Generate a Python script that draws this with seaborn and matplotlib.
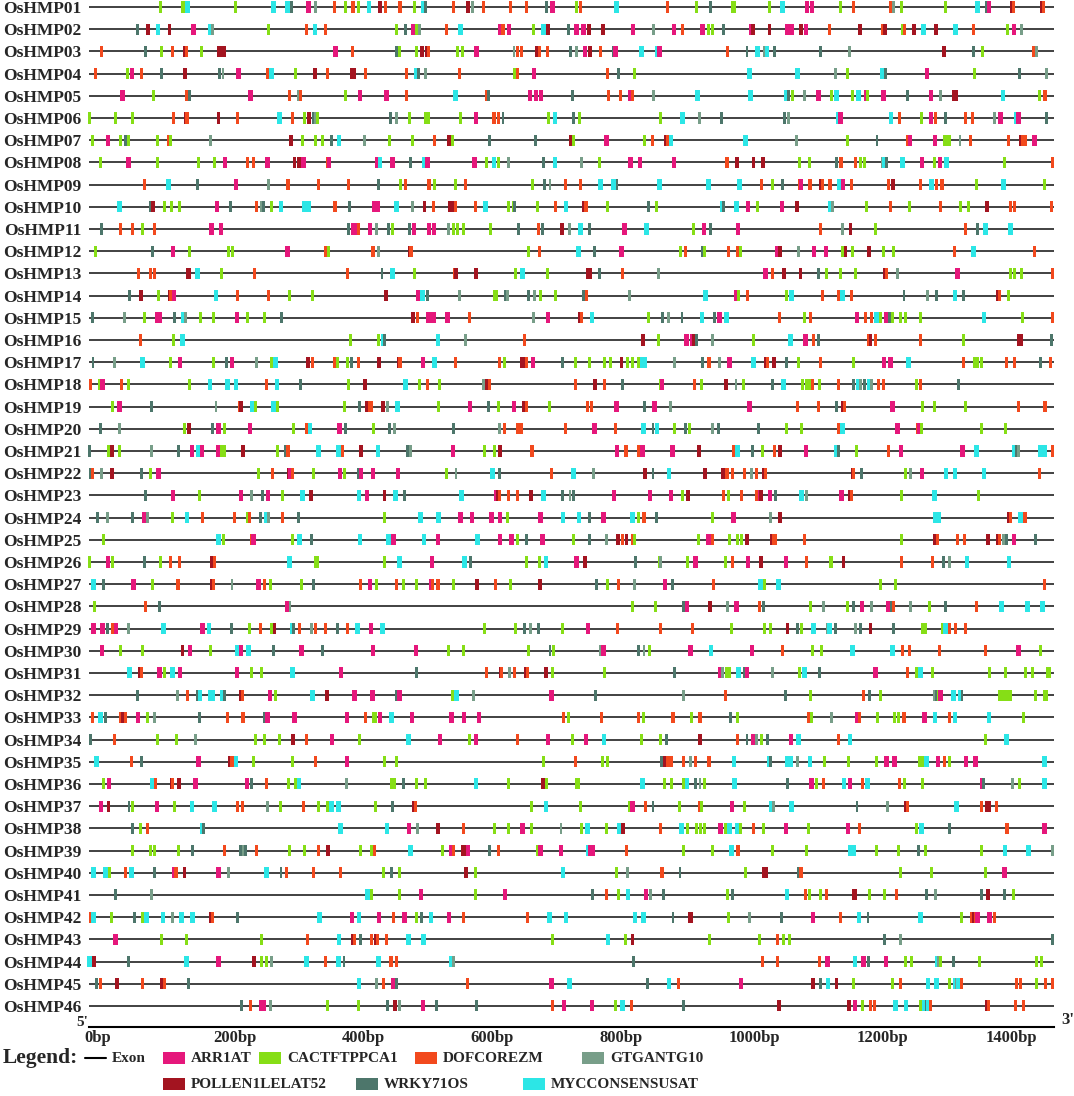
import pandas as pd
import matplotlib.pyplot as plt
import seaborn as sns
from matplotlib.path import Path
from matplotlib.patches import Rectangle
from matplotlib.lines import Line2D
import matplotlib.transforms as mtransforms

genes = ["OsHMP%02d" % i for i in range(1, 47)]
motifs = ["ARR1AT", "CACTFTPPCA1", "DOFCOREZM", "GTGANTG10",
          "POLLEN1LELAT52", "WRKY71OS", "MYCCONSENSUSAT"]
motif_codes = ["A", "C", "D", "G", "P", "W", "M"]
motif_colors = ["#E5177B", "#86DE16", "#F2491D", "#789E89",
                "#A31420", "#4D766B", "#2CE6E6"]
promoter_len = 1500
xticks_bp = [0, 200, 400, 600, 800, 1000, 1200, 1400]

# one string per gene: motif code + site position (bp from 5' end)
sites = [
    "C112 C146 C149 M154 C229 M287 M309 W316 A342 G353 D382 C400 D411 C419 M436 P453 D461 D484 C506 M520 W523 D567 P589 G596 D614 D656 D681 W711 A721 C758 D765 M820 D900 C944 W966 C1000 C1004 C1058 M1078 A1116 A1124 C1168 D1189 D1246 G1250 C1263 C1332 M1381 W1395 A1399 P1434 D1437 P1481 D1484",
    "W76 P92 M108 P126 A163 M189 G192 C279 D339 M352 D368 C479 W493 A504 C509 G514 D556 M578 A640 D644 A653 C692 M707 P714 W746 A758 A769 P777 P799 A846 G878 A910 D923 A954 C963 C969 W986 A1029 P1032 P1058 A1085 A1092 P1107 A1115 D1151 P1199 D1234 P1237 C1264 D1268 P1283 M1297 P1317 M1347 D1375 C1428 A1438 G1449",
    "D20 W89 C113 D131 P149 D152 C176 P203 P206 P210 A384 D410 W478 C483 C510 P518 P525 D528 C574 C581 A603 G661 D667 D673 P696 D700 D713 W749 G758 A771 P779 D795 W815 A819 M859 M884 A887 D993 W1023 M1039 G1050 M1054 W1066 W1137 G1182 P1329 W1375 C1389 D1468 G1473",
    "D11 C61 A68 D82 W113 P150 W203 G209 A233 D278 M284 C321 P352 D371 P409 P412 D431 D494 M509 W512 G524 D577 C662 D666 A692 D806 W823 C849 M1027 M1102 G1161 C1179 M1234 W1238 A1303 C1377 W1446 G1489",
    "A53 C101 D153 W157 A252 D312 G326 D329 C399 A422 A463 D494 M570 D618 W621 A686 A695 A703 W752 D808 D827 A842 D845 G878 M946 M1029 M1084 W1087 C1093 G1112 A1134 C1155 M1162 C1187 M1196 A1208 C1211 A1235 W1272 A1309 G1324 P1345 P1348 M1421 C1478 D1486",
    "C1 C42 C68 D132 P151 D153 P202 D231 M297 D317 C336 P343 W349 G352 C356 W469 G479 C498 C523 C528 C578 A602 D630 D637 W644 C715 M725 W754 C763 C888 M923 G949 W983 W1081 G1087 M1165 A1168 M1247 D1260 C1294 A1309 D1316 W1331 D1363 D1373 G1407 A1417 M1442 A1445 W1489",
    "C6 A30 C50 W57 C62 C107 D124 C128 G190 P314 C332 C352 C363 W378 M389 G429 C467 C503 D538 P560 C566 W623 W695 P750 C754 A805 C864 D876 P897 D899 M905 M1021 G1100 C1179 W1225 D1272 A1276 A1315 C1330 C1335 C1338 G1354 D1370 D1429 P1448 D1451 D1455 A1470",
    "C19 A62 C107 C171 C196 A212 D247 D256 A278 P320 P327 A334 D372 A374 A448 M453 A472 W500 M522 A527 A600 C618 M630 C637 G652 W707 M725 G766 C794 A842 A857 A910 D992 P1007 P1033 P1048 C1105 C1120 W1162 D1169 D1192 C1200 C1205 G1234 M1237 W1240 M1265 A1295 C1315 A1323 M1333 C1423 D1497",
    "D87 M124 W170 A229 G279 D310 D358 D404 W450 C484 D492 D529 C538 C570 D586 C690 W709 G717 D741 D765 M795 M816 W821 M887 M963 M1011 D1046 C1063 W1078 D1105 A1107 D1121 P1138 D1140 D1152 M1166 A1172 D1186 D1243 P1250 D1293 M1310 D1317 D1326 C1380 M1422 C1486",
    "M48 W96 P100 C118 C129 C142 A200 W220 D261 G268 W272 C284 M299 M336 M342 D383 W406 A444 A449 M478 G503 P522 D536 P562 P567 D570 D601 M617 C652 C660 W662 C698 D725 M742 P770 D773 C806 W870 C883 M984 W987 M1007 A1025 C1039 A1077 P1101 M1153 G1156 C1209 D1246 C1276 D1324 C1354 C1367 P1396 D1433 D1439 D1496",
    "W20 D50 D69 C84 D102 A191 A206 W404 A411 A417 D420 A437 G448 W466 C473 W499 A506 A529 A537 G559 C567 C574 C582 C624 W668 D699 W705 P736 G747 M764 W778 A833 M867 C940 A956 W967 A1009 D1137 G1171 P1184 C1222 D1363 W1381 M1394 M1432",
    "C11 W99 A131 C157 C217 C223 A309 D369 C373 D442 G451 P499 D501 C683 D701 M761 W786 A828 C919 D928 W954 C957 D994 D1009 C1013 A1070 P1074 G1103 A1127 A1146 C1172 P1176 C1187 P1213 C1235 C1250 D1345 M1375 D1470",
    "D77 D96 D103 P154 P157 M169 C206 D258 D402 W456 M472 C506 D569 P571 P602 C663 M674 C713 P776 P779 W794 D829 G886 A1052 D1062 P1080 P1106 W1134 C1146 C1168 C1192 P1237 D1240 G1257 A1350 C1432 C1439 C1449 D1497",
    "W64 P82 C109 P126 D128 A133 M198 D232 D279 C312 C348 P462 A513 M519 W527 G577 C631 C634 W648 G651 W683 G693 C702 C725 W769 D774 G840 M959 A1007 C1010 D1024 C1084 M1092 D1140 D1165 M1171 D1185 W1267 G1303 W1318 M1346 W1359 P1413 D1415 C1429",
    "W6 G56 C87 A106 A110 W134 M148 G151 C174 C194 A231 C247 C273 W300 P504 D511 A528 A536 A558 D592 G691 A714 P764 D766 M782 C870 W892 G901 W922 M953 W972 A980 M991 D1073 C1112 D1122 A1194 D1207 D1217 M1224 C1230 A1240 W1244 C1249 C1262 C1269 C1293 M1391 C1451 D1497",
    "D81 C132 M146 C407 C450 M458 W460 M543 G586 D678 P862 C886 A929 A938 P941 W944 G970 C1033 M1091 A1114 D1126 W1134 D1212 P1215 D1223 D1293 C1360 P1446 P1449 W1496",
    "W7 G40 M84 C128 A142 C194 W214 A223 G261 C284 M291 P341 D348 D382 C387 C403 W408 D419 P451 P482 D484 A520 M538 D570 D639 C647 P673 P678 D680 A691 W736 C757 C779 C801 C811 P828 C837 C845 C855 M861 M864 G911 W954 D964 G980 A996 M1033 P1053 D1055 P1065 W1085 C1103 D1137 C1189 A1236 A1246 M1274 D1360 C1376 C1381 C1387 D1426 D1439 W1479 D1495",
    "D3 C17 A22 D51 C62 C157 M189 M216 M229 D276 M293 W329 C404 P429 M493 C514 D526 C546 G614 P619 D623 D757 P787 D802 W829 C888 A891 D942 C953 P991 G1006 C1017 W1063 M1080 C1110 C1115 C1120 D1125 C1135 D1165 W1189 M1196 G1200 W1205 M1213 G1216 D1228 D1235 C1287 D1292 W1351",
    "C37 A48 W98 G198 D234 P237 M254 C260 M287 C294 C398 W421 P432 D436 D439 P458 G464 M480 C543 A593 W622 C637 A661 P677 D681 C716 D775 D781 A820 W864 A879 G904 A1027 D1102 D1134 W1162 P1172 D1175 A1249 C1295 C1315 C1363 D1445 D1486",
    "W18 G48 C149 P156 W192 A202 C212 A251 C318 D338 M344 A390 W399 C442 W467 G476 W567 G639 D646 D667 D672 D741 A786 D819 M862 W877 M883 C910 W928 C933 G970 W979 W1041 C1085 C1107 D1165 M1171 A1257 D1288 A1291 C1294 C1387 C1424",
    "W2 C31 P36 C48 G98 W140 A161 M171 A176 A201 C206 C212 P240 C294 W306 D310 M357 M388 D394 P423 M450 W496 G500 A566 C616 C630 P639 D689 A821 D835 D855 A861 A907 P949 D1002 M1008 W1031 C1047 D1066 P1074 A1115 M1162 W1165 C1193 D1243 A1262 A1358 M1380 M1438 W1442 G1445 M1479 M1485 D1498",
    "W3 D6 G20 P36 W82 C96 A109 C264 D286 P311 A314 D317 C349 A391 C398 W420 A423 A442 A481 C556 G571 M628 W638 D719 M753 G784 P864 W877 M902 P958 P986 D992 D1000 D1019 G1030 D1038 P1049 D1052 P1187 D1189 W1201 C1270 G1277 A1295 M1332 M1346 M1391 D1478",
    "W89 A131 C172 A237 G253 W270 A279 C301 M332 P346 M420 A433 P460 M477 W491 M579 A633 P636 D638 D652 D667 P688 M707 W736 G748 W753 A816 A872 A905 C923 P931 D987 C995 D1015 D1038 A1043 P1045 A1059 W1068 M1108 G1115 A1170 P1183 D1186 C1263 M1314 C1383",
    "W14 G30 W68 A86 G91 C130 M153 D177 D227 C247 D250 W267 M276 G279 D301 W326 C460 M516 M544 A578 A596 A626 A639 C651 A702 M737 M762 W779 A800 M845 C855 D863 W882 C970 A1002 G1059 P1074 M1315 M1321 P1430 D1432 M1448 D1455",
    "C24 M202 C209 D253 A256 C317 M328 W347 M422 M466 A474 M521 A543 M604 A639 A657 C667 W681 A705 C754 W778 G805 P823 D830 P836 D845 C849 C947 A963 D970 C996 C1008 C1014 P1023 P1061 D1064 D1068 D1112 C1263 P1315 D1319 D1350 D1361 P1397 P1413 D1416 G1421 W1426 A1438 W1471",
    "C1 A30 C37 W87 C112 D127 D142 P192 D196 M312 C352 C355 C460 M483 A534 M584 W593 C681 C701 M711 A758 P771 W850 C887 G889 C931 A943 C989 D1000 A1025 P1045 A1084 D1115 C1152 C1155 P1173 D1263 D1311 W1328 G1337 M1365 M1430",
    "M8 W23 A70 C100 D139 P191 D194 G223 A264 D274 C283 C331 W349 D422 A437 C447 D478 C490 C510 A532 D534 D543 C567 P603 D633 C656 P701 W789 C806 D823 G848 A896 W907 D971 M1044 C1051 M1072 C1230 C1253 D1485",
    "C10 D88 W110 A308 G313 C845 C881 W925 A930 P966 G993 A1007 D1043 W1049 C1121 G1142 C1179 W1189 A1202 G1217 A1243 W1247 D1251 G1277 C1307 W1332 D1380 M1418 M1459 M1482",
    "A8 A22 W29 D37 A43 G62 M117 A177 M187 W222 C250 D267 C284 P289 M316 W318 D328 G346 D352 D368 W387 D403 M418 A439 M457 C616 C664 W678 G687 W699 C737 A776 D822 D888 D939 C999 C1051 C1059 P1086 W1102 C1107 M1126 G1148 M1151 W1161 G1192 W1200 P1215 W1250 C1295 C1301 C1327 M1331 M1334 D1338 D1347 D1362",
    "A21 C50 C84 P146 A158 C189 M232 A237 M249 W287 A331 W363 A442 A509 C560 C582 C683 W717 C723 G796 A800 W855 G863 C872 A935 M967 A1031 D1078 C1125 C1139 M1187 M1249 D1265 D1275 D1322 D1394 A1445 C1479",
    "M64 P80 D82 A110 C118 M130 A142 A231 C254 C269 M317 A392 W510 D618 P640 D642 G654 D662 P680 D682 P711 C721 C802 W910 A981 G985 C991 C996 M1010 W1019 A1023 G1062 C1105 M1112 W1135 A1223 D1272 C1287 M1293 C1312 C1400 C1425 C1456 C1466 C1490 C1493",
    "W76 G138 D154 W170 M173 M190 M193 M208 W211 P237 D239 A282 C291 M348 P371 A413 A441 W479 A483 C566 M572 G598 A719 W787 G924 D990 W1083 C1122 D1204 W1213 C1230 G1314 W1317 C1320 A1324 M1344 M1354 W1357 C1416 C1420 C1424 C1428 C1432 C1472 C1485 C1489",
    "D6 M19 W26 D50 P54 D57 A77 C92 G102 W173 D216 D240 W273 A278 A320 A402 D430 C442 C446 A453 M471 A503 A564 A583 A607 D738 C746 D797 D855 C862 D908 C937 D950 W998 C1009 D1119 C1124 G1154 A1194 D1198 C1226 C1252 C1258 D1267 A1299 M1315 D1338 M1346 M1399 C1453",
    "W3 D40 C107 C137 G166 C259 C273 C296 P318 D338 A378 C421 M497 A546 C592 A602 D666 A714 C752 A773 M801 C859 C888 W898 P950 D1008 W1023 A1033 G1038 C1046 W1055 A1091 M1103 D1165 M1183 C1393 M1426",
    "M12 D67 W82 A171 P220 D223 M229 C256 C317 D353 A402 C460 C479 C707 D756 C798 C807 W890 P896 D899 D905 D924 G935 D943 D964 M1003 M1058 W1060 M1085 M1091 G1101 M1121 C1143 C1180 C1225 A1240 A1252 C1291 C1295 M1302 A1320 D1330 C1338 A1363 A1378 M1485",
    "C24 A32 M99 D104 P129 D131 P141 A166 A246 W253 D277 C311 C321 M327 G401 C471 C476 W490 C510 C523 M602 C652 P706 C711 C758 C761 M861 C895 C905 C925 M930 W943 G950 C957 M1004 W1086 A1123 C1131 D1142 M1174 A1183 D1203 M1210 D1260 C1268 C1296 A1388 W1390 G1435 C1446 M1485",
    "A19 P31 W63 C68 A106 C133 M161 M196 D232 D239 G278 C299 D334 C357 C371 M378 M388 C446 W472 P506 D508 C688 M711 C764 C841 A845 D866 W877 C918 D949 C953 A1000 C1019 M1061 G1064 M1092 W1194 G1242 P1270 D1273 M1349 D1388 P1396 P1399 D1411",
    "W69 C81 D92 M177 W179 M391 M464 A498 G511 P543 D583 C631 C652 A674 C688 G734 C766 M775 C804 M825 P831 D889 M921 C930 C944 C951 C957 A982 C990 M996 M1008 C1013 D1033 C1049 A1084 C1119 A1180 D1198 C1287 M1294 W1337 D1427 A1485",
    "C68 C96 C103 C140 W161 D211 W236 G240 W244 D261 C313 C336 D357 P372 C423 C440 D444 M500 C550 A564 D567 P582 P586 A590 W623 D637 C697 A702 A734 M776 A780 A783 D836 C924 C969 M999 D1009 C1062 C1115 M1183 M1189 C1225 C1258 W1289 C1301 C1387 M1424 M1460 G1498",
    "M8 M26 C33 D58 M67 W102 A133 D136 P149 A202 G217 M277 W299 D307 D349 D391 C458 W471 C483 P586 C601 M737 C821 G837 D891 W919 C1020 P1050 P1053 W1103 D1107 C1262 C1310 C1393 A1423",
    "W42 G98 M433 C440 C483 A517 C601 A647 W783 D805 C823 M838 A866 G873 W893 C993 W1000 M1085 D1114 C1120 C1137 D1147 P1189 P1191 C1213 C1236 D1255 W1302 G1316 W1388 P1397 W1423 C1437",
    "D3 M8 C36 W71 C84 M90 M116 G130 M144 M162 P190 D192 W232 M359 A409 M420 A451 D474 A491 C509 W518 M532 A560 D582 D682 M716 M742 M849 M862 W908 P934 P936 C995 G1027 W1076 A1126 D1168 M1197 W1211 M1293 C1357 D1372 P1375 D1378 A1381 A1400 D1407",
    "A42 C114 C152 C269 D340 M389 P410 D413 W423 D439 P447 D449 D463 M497 M520 C721 M807 C834 P845 C965 C1042 D1071 C1080 C1089 W1237 G1262 W1498",
    "M2 P9 W62 M152 A202 P257 C268 C276 G284 M339 D368 M388 W397 M451 D470 D478 M564 G567 W847 D1047 D1071 D1135 A1148 M1191 A1204 W1212 A1239 C1269 C1278 M1318 G1321 C1324 W1344 C1384 C1473 C1481",
    "W13 D19 P44 D84 P114 D118 W156 M420 G447 D458 A474 W478 D589 A719 M747 W868 M902 D916 A1014 P1125 W1137 M1149 P1162 C1189 C1249 D1261 M1304 M1317 C1338 M1346 G1349 M1352 D1356 D1442 D1448 C1473 D1487 D1498",
    "W238 D251 A269 A272 G283 C372 C419 W464 P476 G483 A520 W540 W603 D721 A739 A782 C819 M830 D843 W924 P1073 P1182 A1191 C1202 D1215 D1221 M1254 M1270 C1292 C1295 M1298 W1302 M1305 D1308 P1395 D1398 D1440 D1453",
]

# build a long table: gene, row, motif, position
code_to_motif = dict(zip(motif_codes, motifs))
records = []
for i, (gene, row) in enumerate(zip(genes, sites)):
    for tok in row.split():
        records.append({"gene": gene, "row": i,
                        "motif": code_to_motif[tok[0]], "pos": int(tok[1:])})
df = pd.DataFrame(records)


def bar_marker(half_w):
    # thin vertical rectangle, height is the larger side
    return Path([(-half_w, -0.5), (half_w, -0.5), (half_w, 0.5),
                 (-half_w, 0.5), (-half_w, -0.5)],
                [Path.MOVETO, Path.LINETO, Path.LINETO, Path.LINETO, Path.CLOSEPOLY])


marker_half_w = [0.2, 0.135, 0.14, 0.13, 0.17, 0.13, 0.21]
palette = dict(zip(motifs, motif_colors))
markers = {m: bar_marker(w) for m, w in zip(motifs, marker_half_w)}

sns.set_theme(style="white")
plt.rcParams["font.family"] = ["Liberation Serif", "DejaVu Serif"]
plt.rcParams["font.weight"] = "bold"

W, H = 1074, 1096
fig = plt.figure(figsize=(W / 100, H / 100), dpi=100)
ax_left, ax_right = 88.5, 1054
ax_top, ax_bot = 0.34, 1027
ax = fig.add_axes([ax_left / W, 1 - ax_bot / H, (ax_right - ax_left) / W, (ax_bot - ax_top) / H])

ax.hlines(range(len(genes)), 0, promoter_len, colors="#333333", lw=1.3, zorder=1)

sns.scatterplot(data=df, x="pos", y="row", hue="motif", style="motif",
                hue_order=motifs, style_order=motifs, palette=palette,
                markers=markers, s=64, linewidth=0, legend=False,
                ax=ax, zorder=3, clip_on=False)

ax.set_xlim(0, promoter_len)
ax.set_ylim(45.95, -0.3)
ax.set_xlabel("")
ax.set_ylabel("")

ax.set_yticks(range(len(genes)))
ax.set_yticklabels(genes, fontsize=12.5, fontweight="bold")
ax.tick_params(axis="y", length=0, pad=5)

ax.set_xticks(xticks_bp)
ax.set_xticklabels([f"{v}bp" for v in xticks_bp], fontsize=12, fontweight="bold", ha="left")
ax.tick_params(axis="x", direction="in", length=5, width=1.2, pad=2, color="black")
shift = mtransforms.ScaledTranslation(-4 / 100, 0, fig.dpi_scale_trans)
for lab in ax.get_xticklabels():
    lab.set_transform(lab.get_transform() + shift)

for side in ["top", "right", "left"]:
    ax.spines[side].set_visible(False)
ax.spines["bottom"].set_color("black")
ax.spines["bottom"].set_linewidth(1.5)


def fx(px):
    return px / W


def fy(py):
    return 1 - py / H


fig.text(fx(88), fy(1023), "5'", ha="right", va="center", fontsize=11, fontweight="bold")
fig.text(fx(1061), fy(1020), "3'", ha="left", va="center", fontsize=12, fontweight="bold")

# legend, drawn by hand to follow the original layout
y1, y2 = 1058, 1084
fig.text(fx(3), fy(y1), "Legend:", ha="left", va="center", fontsize=15.5, fontweight="bold")
fig.add_artist(Line2D([fx(85), fx(106)], [fy(y1), fy(y1)], color="black", lw=1.5))
fig.text(fx(112), fy(y1), "Exon", ha="left", va="center", fontsize=11, fontweight="bold")

legend_slots = [
    ("ARR1AT", 163, y1), ("CACTFTPPCA1", 259, y1), ("DOFCOREZM", 415, y1),
    ("GTGANTG10", 582, y1), ("POLLEN1LELAT52", 163, y2), ("WRKY71OS", 356, y2),
    ("MYCCONSENSUSAT", 523, y2),
]
for name, px, py in legend_slots:
    fig.add_artist(Rectangle((fx(px), fy(py + 6)), 22 / W, 12 / H,
                             facecolor=palette[name], edgecolor="none"))
    fig.text(fx(px + 28), fy(py), name, ha="left", va="center", fontsize=11, fontweight="bold")

fig.savefig("out.png", dpi=100)
